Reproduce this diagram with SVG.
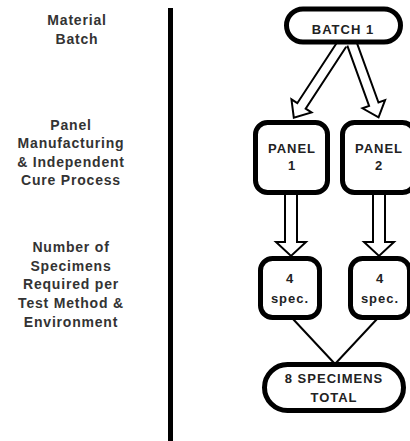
<svg xmlns="http://www.w3.org/2000/svg" width="410" height="441" viewBox="0 0 410 441">
<style>
.lbl{font-family:"Liberation Sans",Arial,sans-serif;font-size:14px;font-weight:bold;fill:#333;text-anchor:middle;letter-spacing:0.8px}
.nt{font-family:"Liberation Sans",Arial,sans-serif;font-size:13px;font-weight:bold;fill:#222;text-anchor:middle;letter-spacing:1px}
.box{fill:#fff;stroke:#000;stroke-width:5}
.harrow{fill:#fff;stroke:#000;stroke-width:2;stroke-linejoin:miter}
.ln{stroke:#000;stroke-width:2;fill:none}
</style>
<rect x="168" y="8" width="5" height="433" fill="#000"/>
<g id="labels">
<text class="lbl" x="77" y="25">Material</text>
<text class="lbl" x="77" y="44">Batch</text>
<text class="lbl" x="71" y="130">Panel</text>
<text class="lbl" x="71" y="148">Manufacturing</text>
<text class="lbl" x="71" y="167">&amp; Independent</text>
<text class="lbl" x="71" y="185">Cure Process</text>
<text class="lbl" x="71" y="252">Number of</text>
<text class="lbl" x="71" y="271">Specimens</text>
<text class="lbl" x="71" y="289">Required per</text>
<text class="lbl" x="71" y="308">Test Method &amp;</text>
<text class="lbl" x="71" y="327">Environment</text>
</g>
<g id="connectors">
<path class="harrow" transform="translate(342,44) rotate(33.2)" d="M-5,0 V74 H-12 L0,88 L12,74 H5 V0"/>
<path class="harrow" transform="translate(352,44) rotate(-19.9)" d="M-5,0 V64 H-12 L0,78 L12,64 H5 V0"/>
<path class="harrow" d="M285,194 V242 H276 L291,256 L306,242 H297 V194"/>
<path class="harrow" d="M373,194 V242 H364 L379,256 L394,242 H385 V194"/>
<line class="ln" x1="293" y1="319" x2="335" y2="364"/>
<line class="ln" x1="377" y1="319" x2="335" y2="364"/>
</g>
<g id="batch1">
<rect class="box" x="286.5" y="9" width="114" height="33" rx="16.5"/>
<text class="nt" x="343" y="34">BATCH 1</text>
</g>
<g id="panel1">
<rect class="box" x="255.5" y="122.5" width="72" height="70" rx="12"/>
<text class="nt" x="292" y="153">PANEL</text>
<text class="nt" x="292" y="170">1</text>
</g>
<g id="panel2">
<rect class="box" x="342.5" y="122.5" width="72" height="70" rx="12"/>
<text class="nt" x="379" y="153">PANEL</text>
<text class="nt" x="379" y="170">2</text>
</g>
<g id="spec1">
<rect class="box" x="260.5" y="258.5" width="59" height="59" rx="12"/>
<text class="nt" x="290" y="283">4</text>
<text class="nt" x="290" y="303">spec.</text>
</g>
<g id="spec2">
<rect class="box" x="350.5" y="258.5" width="59" height="59" rx="12"/>
<text class="nt" x="380" y="283">4</text>
<text class="nt" x="380" y="303">spec.</text>
</g>
<g id="total">
<rect class="box" x="264.5" y="364.5" width="139" height="46" rx="23"/>
<text class="nt" x="334" y="383">8 SPECIMENS</text>
<text class="nt" x="334" y="402">TOTAL</text>
</g>
</svg>
